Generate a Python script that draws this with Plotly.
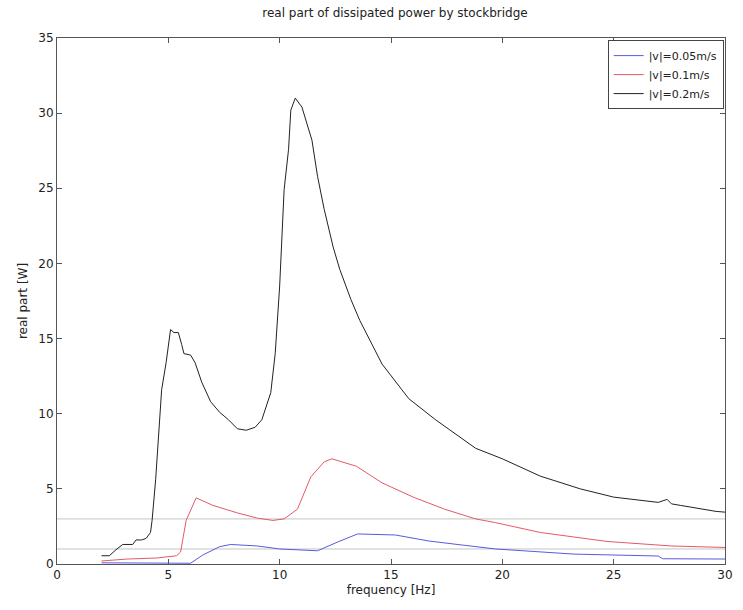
import plotly.graph_objects as go

# ---- data ----
freq_02 = [2.0, 2.35, 2.65, 2.95, 3.4, 3.55, 3.8, 4.0, 4.2, 4.27, 4.43, 4.5, 4.7, 4.9, 5.1, 5.25,
           5.45, 5.6, 5.7, 6.0, 6.2, 6.5, 6.9, 7.3, 7.7, 8.1, 8.5, 8.9, 9.2, 9.6, 9.8, 10.0, 10.2,
           10.4, 10.5, 10.7, 11.0, 11.45, 11.7, 12.0, 12.4, 12.7, 13.2, 13.6, 14.6, 15.8, 17.0,
           18.8, 20.0, 21.7, 23.5, 25.0, 27.0, 27.4, 27.6, 28.0, 29.0, 29.6, 30.0]
power_02 = [0.55, 0.55, 0.95, 1.3, 1.3, 1.6, 1.6, 1.7, 2.1, 2.9, 5.6, 7.1, 11.6, 13.4, 15.6, 15.4,
            15.4, 14.6, 14.0, 13.9, 13.4, 12.1, 10.8, 10.1, 9.6, 9.0, 8.9, 9.1, 9.6, 11.4, 14.0,
            18.5, 24.9, 27.6, 30.2, 31.0, 30.4, 28.2, 25.8, 23.6, 21.1, 19.6, 17.6, 16.2, 13.3,
            11.0, 9.6, 7.7, 7.0, 5.85, 5.0, 4.45, 4.1, 4.3, 4.0, 3.9, 3.65, 3.5, 3.45]

freq_01 = [2.0, 3.15, 4.5, 5.37, 5.55, 5.8, 6.25, 7.0, 8.1, 9.0, 9.7, 10.2, 10.8, 11.4, 12.0,
           12.35, 13.45, 14.6, 16.0, 17.4, 18.8, 19.7, 21.7, 24.7, 27.6, 30.0]
power_01 = [0.2, 0.33, 0.4, 0.55, 0.8, 2.9, 4.4, 3.9, 3.4, 3.05, 2.9, 3.0, 3.65, 5.8, 6.8,
            7.0, 6.5, 5.4, 4.45, 3.65, 3.0, 2.75, 2.1, 1.5, 1.2, 1.1]

freq_005 = [2.0, 4.0, 6.0, 6.55, 7.3, 7.8, 8.35, 9.0, 10.0, 10.8, 11.7, 12.6, 13.5, 15.2, 16.7,
            18.2, 19.7, 23.2, 27.0, 27.2, 30.0]
power_005 = [0.08, 0.05, 0.05, 0.6, 1.15, 1.3, 1.25, 1.2, 1.0, 0.92, 0.88, 1.46, 2.0, 1.93, 1.53,
             1.26, 1.0, 0.66, 0.53, 0.35, 0.33]

thresholds = [3, 1]
x_range = [0, 30]

series_names = ["|v|=0.05m/s", "|v|=0.1m/s", "|v|=0.2m/s"]
series_colors = ["#5a5ade", "#e25a66", "#222222"]

fig = go.Figure()

for t in thresholds:
    fig.add_trace(go.Scatter(x=x_range, y=[t, t], mode="lines",
                             line=dict(color="#c4c4c4", width=1),
                             showlegend=False, hoverinfo="skip"))

for xs, ys, name, col in zip([freq_005, freq_01, freq_02],
                             [power_005, power_01, power_02],
                             series_names, series_colors):
    fig.add_trace(go.Scatter(x=xs, y=ys, mode="lines", name=name,
                             line=dict(color=col, width=1)))

txt_font = "DejaVu Sans, Arial"
axis_common = dict(showline=True, linecolor="#555555", linewidth=1, mirror="ticks",
                   ticks="inside", ticklen=5, tickcolor="#555555", showgrid=False,
                   zeroline=False, dtick=5,
                   tickfont=dict(family=txt_font, size=12, color="#222"))

fig.update_layout(
    width=743, height=610,
    margin=dict(l=57, r=10, t=38, b=46),
    paper_bgcolor="white", plot_bgcolor="white",
    font=dict(family=txt_font, size=12, color="#222"),
    title=dict(text="real part of dissipated power by stockbridge",
               x=(57 + 733) / 2 / 743, xanchor="center",
               y=1 - 13 / 610, yanchor="middle", yref="container",
               font=dict(family=txt_font, size=12, color="#222")),
    xaxis=dict(range=x_range,
               title=dict(text="frequency [Hz]", standoff=4,
                          font=dict(family=txt_font, size=12, color="#222")),
               **axis_common),
    yaxis=dict(range=[0, 35],
               title=dict(text="real part [W]", standoff=8,
                          font=dict(family=txt_font, size=12, color="#222")),
               **axis_common),
    legend=dict(x=0.998, xanchor="right", y=0.996, yanchor="top",
                bordercolor="#444", borderwidth=1, bgcolor="white",
                font=dict(family=txt_font, size=11, color="#222"), tracegroupgap=0),
)

fig.write_html("out.html")
